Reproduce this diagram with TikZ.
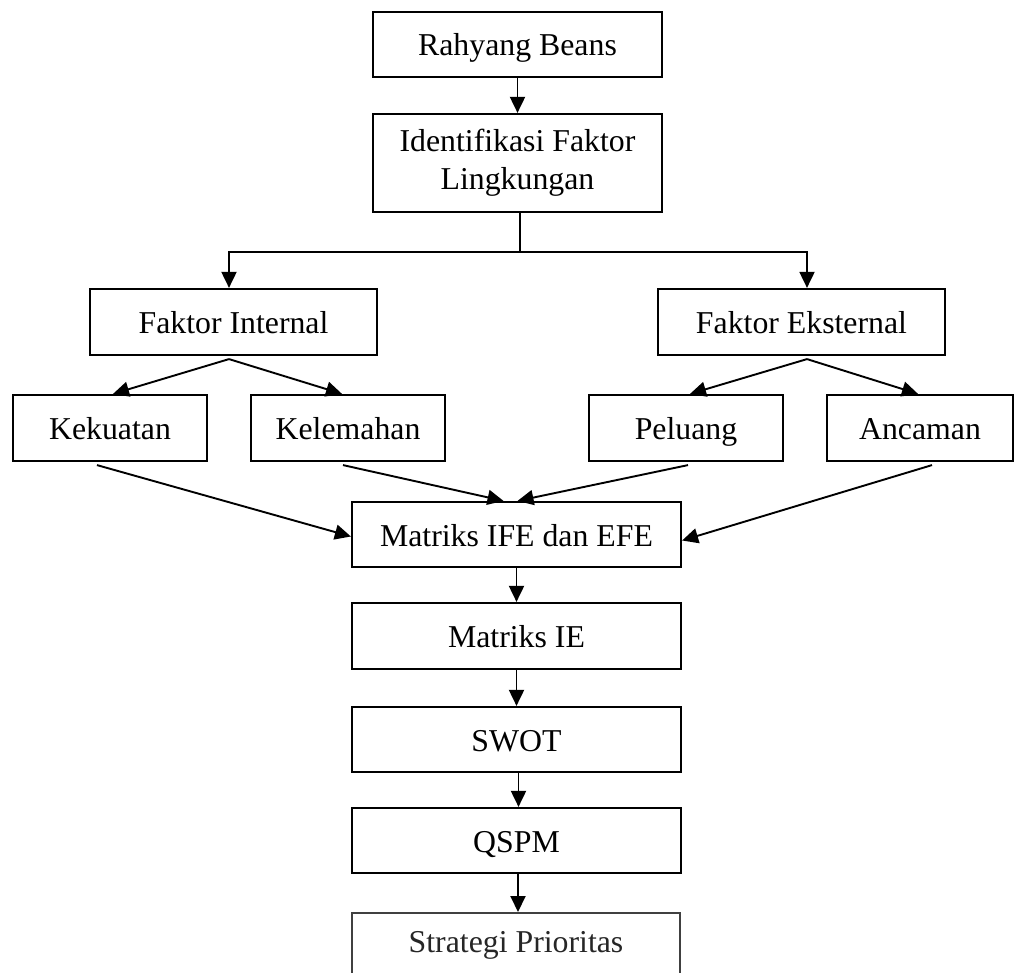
\documentclass[tikz,border=0pt]{standalone}
\usepackage{fontspec}
\setmainfont{Liberation Serif}
\usetikzlibrary{arrows.meta}
\begin{document}
\begin{tikzpicture}[x=1pt,y=-1pt,
  box/.style={draw=black, line width=2.2pt, rectangle, inner sep=0pt, align=center,
    font=\fontsize{31.8}{38}\selectfont},
  onel/.style={box, text height=27pt, text depth=4pt},
  conn/.style={line width=1.9pt, -{Triangle[length=16pt,width=15pt]}},
  plain/.style={line width=1.9pt}]
\useasboundingbox (0,0) rectangle (1014,973);
\clip (0,0) rectangle (1014,973);
\fill[white] (0,0) rectangle (1014,973);

\node[onel, minimum width=289pt, minimum height=65pt] (rb) at (517.5,44.5) {Rahyang Beans};
\node[box, minimum width=289pt, minimum height=98pt] (ifl) at (517.5,163) {Identifikasi Faktor\\Lingkungan};
\node[onel, minimum width=287pt, minimum height=66pt] (fi) at (233.5,322) {Faktor Internal};
\node[onel, minimum width=287pt, minimum height=66pt] (fe) at (801.5,322) {Faktor Eksternal};
\node[onel, minimum width=194pt, minimum height=66pt] (kek) at (110,428) {Kekuatan};
\node[onel, minimum width=194pt, minimum height=66pt] (kel) at (348,428) {Kelemahan};
\node[onel, minimum width=194pt, minimum height=66pt] (pel) at (686,428) {Peluang};
\node[onel, minimum width=186pt, minimum height=66pt] (anc) at (920,428) {Ancaman};
\node[onel, minimum width=329pt, minimum height=65pt] (ife) at (516.5,534.5) {Matriks IFE dan EFE};
\node[onel, minimum width=329pt, minimum height=66pt] (ie) at (516.5,636) {Matriks IE};
\node[onel, minimum width=329pt, minimum height=65pt] (swot) at (516.5,739.5) {SWOT};
\node[onel, minimum width=329pt, minimum height=65pt] (qspm) at (516.5,840.5) {QSPM};
\node[box, draw=black!75, line width=1.5pt, text=black!85, anchor=north,
  minimum width=328pt, text height=40pt, text depth=70pt] (sp) at (516,912) {Strategi Prioritas};

\coordinate (j) at (520,252);
\draw[conn] (rb.south) -- (ifl.north);
\draw[plain] ([xshift=2.5pt]ifl.south) -- (j);
\draw[conn] (j) -| ([xshift=-4.5pt]fi.north);
\draw[conn] (j) -| ([xshift=5.5pt]fe.north);

\draw[conn] ([xshift=-4.5pt,yshift=-3pt]fi.south) -- ([xshift=3pt]kek.north);
\draw[conn] ([xshift=-4.5pt,yshift=-3pt]fi.south) -- ([xshift=-6pt]kel.north);
\draw[conn] ([xshift=5.5pt,yshift=-3pt]fe.south) -- ([xshift=4pt]pel.north);
\draw[conn] ([xshift=5.5pt,yshift=-3pt]fe.south) -- ([xshift=-2pt]anc.north);

\draw[conn] ([xshift=-13pt,yshift=-3pt]kek.south) -- ([yshift=-2pt]ife.west);
\draw[conn] ([xshift=-5pt,yshift=-3pt]kel.south) -- ([xshift=-13pt]ife.north);
\draw[conn] ([xshift=2pt,yshift=-3pt]pel.south) -- ([xshift=1pt]ife.north);
\draw[conn] ([xshift=12pt,yshift=-3pt]anc.south) -- ([yshift=-6pt]ife.east);

\draw[conn] (ife.south) -- (ie.north);
\draw[conn] (ie.south) -- (swot.north);
\draw[conn] ([xshift=2pt]swot.south) -- ([xshift=2pt]qspm.north);
\draw[conn] ([xshift=1.5pt]qspm.south) -- ([xshift=2pt]sp.north);
\end{tikzpicture}
\end{document}
